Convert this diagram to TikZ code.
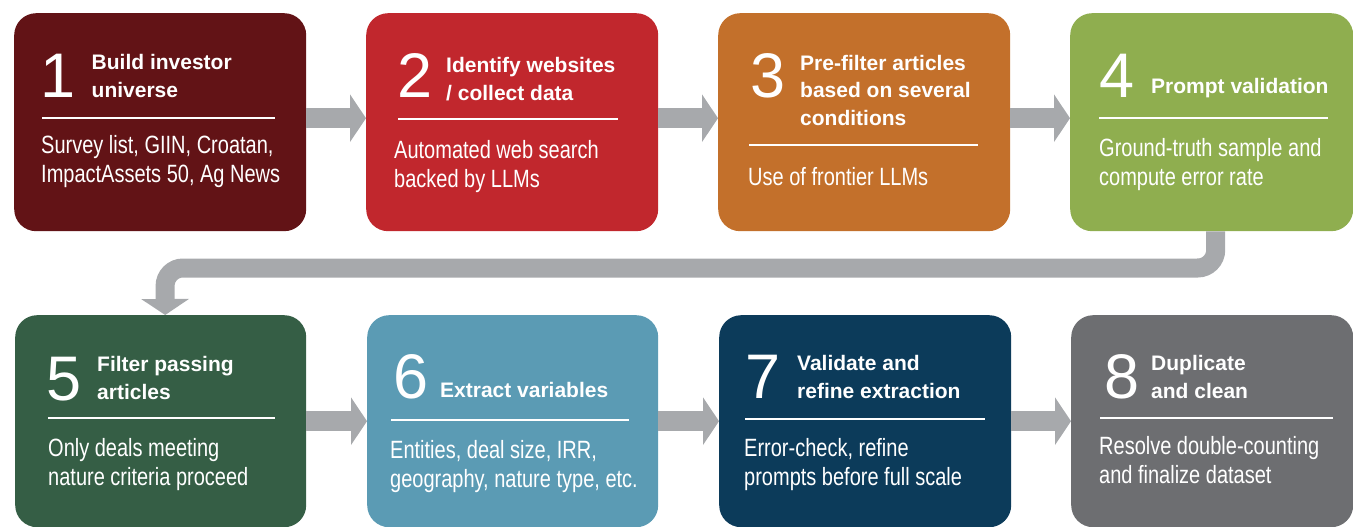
\documentclass[tikz,border=0pt]{standalone}
\usepackage{fontspec}
\setmainfont{Liberation Sans}
\newfontfamily\condfont[FakeStretch=0.8]{Liberation Sans}
\usetikzlibrary{arrows.meta}

\definecolor{stepA}{HTML}{621316}
\definecolor{stepB}{HTML}{C1272D}
\definecolor{stepC}{HTML}{C3702B}
\definecolor{stepD}{HTML}{8FAE4F}
\definecolor{stepE}{HTML}{355E45}
\definecolor{stepF}{HTML}{5B9BB4}
\definecolor{stepG}{HTML}{0C3B5A}
\definecolor{stepH}{HTML}{6D6E71}
\definecolor{flowgray}{HTML}{A7A9AC}

\tikzset{
	card/.style={rounded corners=22pt, minimum height=218pt, inner sep=0pt, anchor=north west},
	num/.style={anchor=base west, inner sep=0pt, text=white, font=\fontsize{63}{63}\selectfont},
	head/.style={anchor=base west, inner sep=0pt, text=white, align=left, font=\fontsize{21}{27.5}\selectfont\bfseries},
	body/.style={anchor=base west, inner sep=0pt, text=white, align=left, font=\condfont\fontsize{25}{29}\selectfont},
	rule/.style={white, line width=1.5pt},
	flow/.style={draw=flowgray, line width=20pt, -{Triangle[length=16pt, width=47pt]}},
}

\begin{document}
\begin{tikzpicture}[x=1pt, y=-1pt]
	\useasboundingbox (0,0) rectangle (1353,527);

	% top row
	\node [card, fill=stepA, minimum width=292pt] (b1) at (14,13) {};
	\node [card, fill=stepB, minimum width=292pt] (b2) at (366,13) {};
	\node [card, fill=stepC, minimum width=292pt] (b3) at (718,13) {};
	\node [card, fill=stepD, minimum width=283pt] (b4) at (1070,13) {};

	% bottom row
	\node [card, fill=stepE, minimum width=291pt, minimum height=212pt] (b5) at (15,315) {};
	\node [card, fill=stepF, minimum width=291pt, minimum height=212pt] (b6) at (367,315) {};
	\node [card, fill=stepG, minimum width=292pt, minimum height=212pt] (b7) at (719,315) {};
	\node [card, fill=stepH, minimum width=282pt, minimum height=212pt] (b8) at (1071,315) {};

	% step 1 (multi-line nodes sit on their last baseline)
	\node [num] (n1) at (40,97) {1};
	\node [head] (t1) at (91.5,97) {Build investor\\universe};
	\draw [rule] (42,118) -- (275,118);
	\node [body] (x1) at (41,182) {Survey list, GIIN, Croatan,\\ImpactAssets 50, Ag News};

	% step 2
	\node [num] (n2) at (397,98) {2};
	\node [head] (t2) at (446,100) {Identify websites\\/ collect data};
	\draw [rule] (398,119) -- (618,119);
	\node [body] (x2) at (394,187) {Automated web search\\backed by LLMs};

	% step 3
	\node [num] (n3) at (750,97) {3};
	\node [head] (t3) at (800,125) {Pre-filter articles\\based on several\\conditions};
	\draw [rule] (749,145) -- (978,145);
	\node [body] (x3) at (748,185) {Use of frontier LLMs};

	% step 4
	\node [num] (n4) at (1099,97) {4};
	\node [head] (t4) at (1151,93) {Prompt validation};
	\draw [rule] (1099,118) -- (1328,118);
	\node [body] (x4) at (1099,185) {Ground-truth sample and\\compute error rate};

	% step 5
	\node [num] (n5) at (46,400) {5};
	\node [head] (t5) at (97,399) {Filter passing\\articles};
	\draw [rule] (48,418) -- (275,418);
	\node [body] (x5) at (48,485) {Only deals meeting\\nature criteria proceed};

	% step 6
	\node [num] (n6) at (393,398) {6};
	\node [head] (t6) at (440,397) {Extract variables};
	\draw [rule] (391,420) -- (629,420);
	\node [body] (x6) at (390,487) {Entities, deal size, IRR,\\geography, nature type, etc.};

	% step 7
	\node [num] (n7) at (745,398) {7};
	\node [head] (t7) at (797,398) {Validate and\\refine extraction};
	\draw [rule] (745,419) -- (985,419);
	\node [body] (x7) at (744,485) {Error-check, refine\\prompts before full scale};

	% step 8
	\node [num] (n8) at (1104,398) {8};
	\node [head] (t8) at (1151,398) {Duplicate\\and clean};
	\draw [rule] (1100,418) -- (1333,418);
	\node [body] (x8) at (1099,483) {Resolve double-counting\\and finalize dataset};

	% flow arrows
	\draw [flow] ([yshift=4pt]b1.east) -- ([yshift=4pt]b2.west);
	\draw [flow] ([yshift=4pt]b2.east) -- ([yshift=4pt]b3.west);
	\draw [flow] ([yshift=4pt]b3.east) -- ([yshift=4pt]b4.west);
	\coordinate (bend) at (165,268);
	\draw [flow, line width=19pt, rounded corners=18pt] ([xshift=4pt]b4.south) |- (bend) -- ([xshift=4.5pt]b5.north);
	\draw [flow] (b5.east) -- (b6.west);
	\draw [flow] (b6.east) -- (b7.west);
	\draw [flow] (b7.east) -- (b8.west);
\end{tikzpicture}
\end{document}
